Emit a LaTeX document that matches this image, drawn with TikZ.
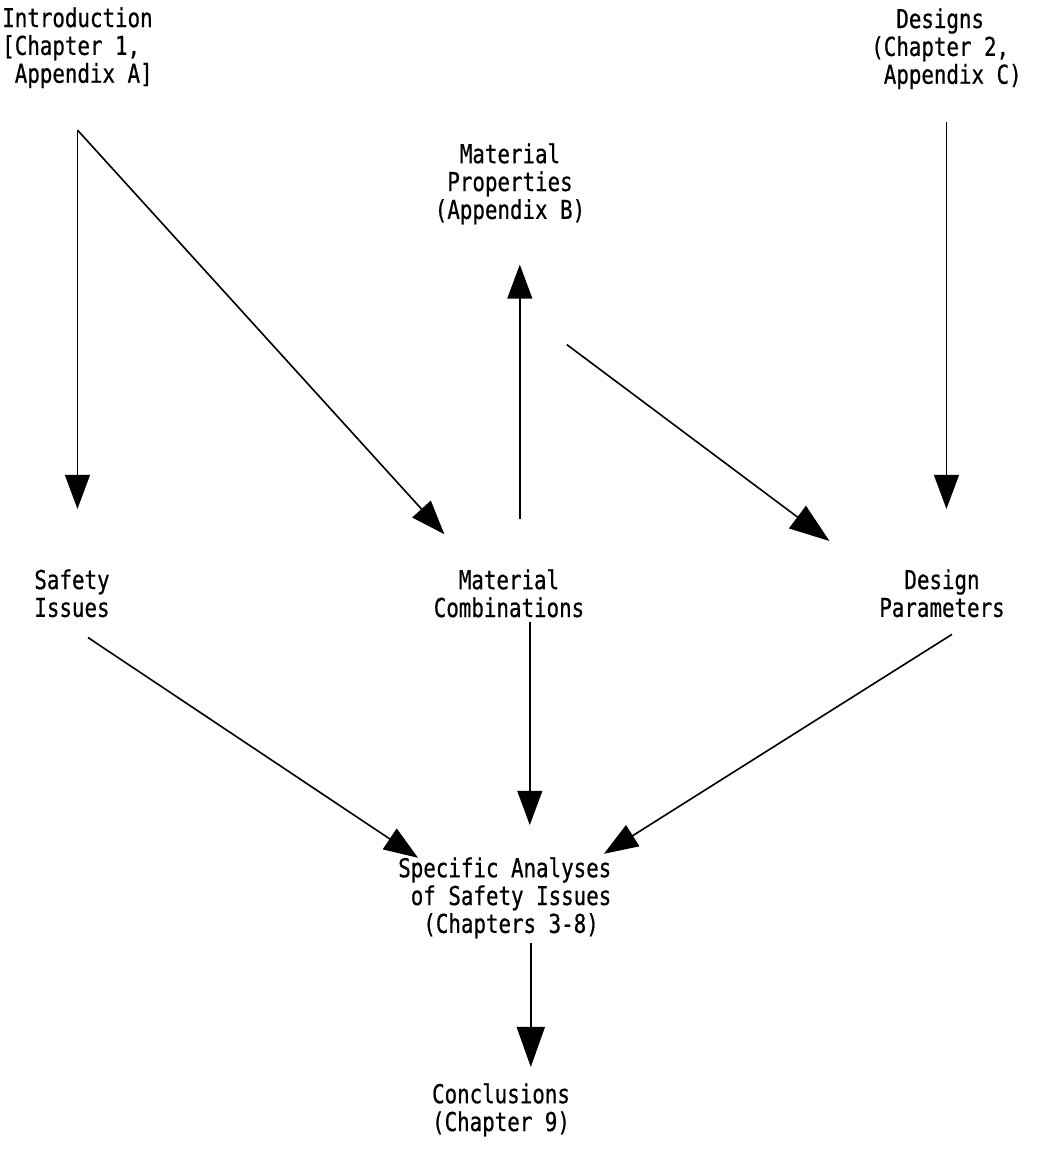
\documentclass[tikz,border=0pt]{standalone}
\usepackage{fontspec}
\newfontfamily\typewriter[FakeStretch=0.8, FakeBold=0.6]{DejaVu Sans Mono}
\usetikzlibrary{arrows.meta}

\begin{document}
\begin{tikzpicture}[
		x=0.025cm, y=-0.025cm,
		label/.style={inner sep=0pt, anchor=north, align=center,
			font=\typewriter\fontsize{18.5}{19.8}\selectfont},
		arrow/.style={-{Triangle[length=0.85cm, width=0.62cm]}, line width=1.15pt},
		bigArrow/.style={arrow, -{Triangle[length=1cm, width=0.7cm]}}
		]
		\useasboundingbox (0,0) rectangle (1062,1151);
		
		\node[label, align=left, anchor=north west] (intro) at (2,7) {Introduction\\{[}Chapter 1,\\\phantom{A}Appendix A]};
		\node[label, align=left, anchor=north west] (designs) at (871,8) {\phantom{AA}Designs\\(Chapter 2,\\\phantom{A}Appendix C)};
		\node[label] (matprop) at (510,143) {Material\\Properties\\(Appendix B)};
		\node[label] (safety) at (72,569) {Safety\\Issues};
		\node[label] (matcomb) at (509,569) {Material\\Combinations};
		\node[label] (designparams) at (942,569) {Design\\Parameters};
		\node[label, align=left, anchor=north west] (specific) at (398,857) {Specific Analyses\\\phantom{A}of Safety Issues\\\phantom{AA}(Chapters 3-8)};
		\node[label] (conclusions) at (501,1083) {Conclusions\\(Chapter 9)};
		
		\coordinate (introfoot) at ([yshift=-1.04cm]intro.south);
		\coordinate (designsfoot) at ([yshift=-0.81cm]designs.south);
		\coordinate (combhead) at ([xshift=0.27cm]matcomb.north);
		\coordinate (combfoot) at ([xshift=0.52cm, yshift=-0.1cm]matcomb.south);
		\coordinate (specfoot) at ([xshift=0.65cm, yshift=-0.1cm]specific.south);
		
		\draw [arrow] (introfoot) -- (introfoot |- safety.north) [shorten >=1.5cm];
		\draw [arrow] (introfoot) -- ([xshift=0.27cm, yshift=0.87cm]matcomb.north west);
		\draw [arrow] (designsfoot) -- (designsfoot |- designparams.north) [shorten >=1.5cm];
		\draw [arrow] (combhead) -- (combhead |- matprop.south) [shorten <=1.25cm, shorten >=1cm];
		\draw [bigArrow] ([xshift=1.42cm, yshift=-3cm]matprop.south) -- ([xshift=-1.24cm, yshift=0.7cm]designparams.north west);
		\draw [arrow] ([xshift=0.4cm, yshift=-0.5cm]safety.south) -- ([xshift=0.5cm, yshift=1cm]specific.west);
		\draw [arrow] (combfoot) -- (combfoot |- specific.north) [shorten >=0.8cm];
		\draw [arrow] ([xshift=0.25cm, yshift=-0.42cm]designparams.south) -- ([xshift=-0.19cm, yshift=1.1cm]specific.east);
		\draw [bigArrow] (specfoot) -- (specfoot |- conclusions.north) [shorten >=0.4cm];
	\end{tikzpicture}
\end{document}
